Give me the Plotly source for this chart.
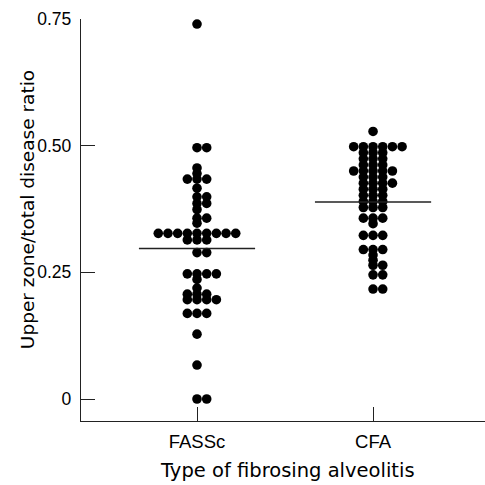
import plotly.graph_objects as go
from collections import Counter

categories = ["FASSc", "CFA"]

fassc_values = [
    0.74,
    0.496, 0.496,
    0.456,
    0.445,
    0.434, 0.434, 0.434,
    0.416,
    0.399, 0.399,
    0.386, 0.386,
    0.374,
    0.357, 0.357,
    0.347,
    0.327, 0.327, 0.327, 0.327, 0.327, 0.327, 0.327, 0.327, 0.327,
    0.314, 0.314, 0.314,
    0.289, 0.289,
    0.247, 0.247, 0.247, 0.247,
    0.236,
    0.219,
    0.207, 0.207, 0.207,
    0.196, 0.196, 0.196, 0.196,
    0.169, 0.169, 0.169,
    0.128,
    0.067,
    0.0, 0.0,
]

cfa_values = [
    0.528,
    0.498, 0.498, 0.498, 0.498, 0.498, 0.498,
    0.486, 0.486, 0.486,
    0.474, 0.474, 0.474,
    0.462, 0.462, 0.462,
    0.450, 0.450, 0.450, 0.450, 0.450,
    0.438, 0.438, 0.438,
    0.426, 0.426, 0.426, 0.426,
    0.414, 0.414, 0.414,
    0.402, 0.402, 0.402,
    0.390, 0.390, 0.390,
    0.378, 0.378, 0.378,
    0.357, 0.357, 0.357,
    0.346,
    0.323, 0.323, 0.323,
    0.295, 0.295, 0.295,
    0.284,
    0.274,
    0.264, 0.264,
    0.245, 0.245,
    0.217, 0.217,
]

group_means = [0.297, 0.389]

y_ticks = [0, 0.25, 0.5, 0.75]
y_tick_labels = ["0", "0.25", "0.50", "0.75"]

x_title = "Type of fibrosing alveolitis"
y_title = "Upper zone/total disease ratio"

TICK_FONT = "Liberation Sans, Arial, Helvetica, sans-serif"
TITLE_FONT = "DejaVu Sans, Liberation Sans, sans-serif"
STEP = 0.055      # horizontal spacing of tied dots (category units)
HALF_LINE = 0.33  # half-width of the mean line (category units)


def swarm(values, center):
    counts = Counter(values)
    seen = {}
    xs = []
    for v in values:
        n = counts[v]
        k = seen.get(v, 0)
        seen[v] = k + 1
        xs.append(center + (k - (n - 1) // 2) * STEP)
    return xs


fig = go.Figure()

for i, vals in enumerate([fassc_values, cfa_values]):
    fig.add_trace(go.Scatter(
        x=swarm(vals, i), y=vals, mode="markers",
        marker=dict(size=9.6, color="black", line=dict(width=0)),
        showlegend=False, hoverinfo="skip",
    ))
    fig.add_trace(go.Scatter(
        x=[i - HALF_LINE, i + HALF_LINE], y=[group_means[i], group_means[i]],
        mode="lines", line=dict(color="#222222", width=1.5),
        showlegend=False, hoverinfo="skip",
    ))

fig.update_layout(
    width=485, height=485,
    margin=dict(l=81, r=0, t=19, b=64),
    paper_bgcolor="white", plot_bgcolor="white",
    font=dict(family=TICK_FONT, size=17, color="black"),
    xaxis=dict(
        range=[-0.659, 1.636],
        tickvals=[0, 1], ticktext=categories,
        ticks="inside", ticklen=14, tickwidth=1, tickcolor="#222222",
        showline=True, linecolor="#222222", linewidth=1.2,
        showgrid=False, zeroline=False, automargin=False,
        tickfont=dict(family=TICK_FONT, size=18.5),
        ticklabelstandoff=4,
    ),
    yaxis=dict(
        range=[-0.0434, 0.75],
        tickvals=y_ticks, ticktext=y_tick_labels,
        ticks="inside", ticklen=14, tickwidth=1, tickcolor="#222222",
        showline=True, linecolor="#222222", linewidth=1.2,
        showgrid=False, zeroline=False, automargin=False,
        tickfont=dict(family=TICK_FONT, size=17.5),
        ticklabelstandoff=5,
    ),
    annotations=[
        dict(text=x_title, xref="paper", yref="paper", x=0.511, y=-0.124,
             xanchor="center", yanchor="middle", showarrow=False,
             font=dict(family=TITLE_FONT, size=19.5, color="black")),
        dict(text=y_title, xref="paper", yref="paper", x=-0.1337, y=0.527,
             xanchor="center", yanchor="middle", showarrow=False, textangle=-90,
             font=dict(family=TITLE_FONT, size=18.5, color="black")),
    ],
)

fig.write_html(
    "out.html",
    config={"displayModeBar": False, "staticPlot": True},
    post_script="document.body.style.margin='0px'; document.body.style.padding='0px';",
)
